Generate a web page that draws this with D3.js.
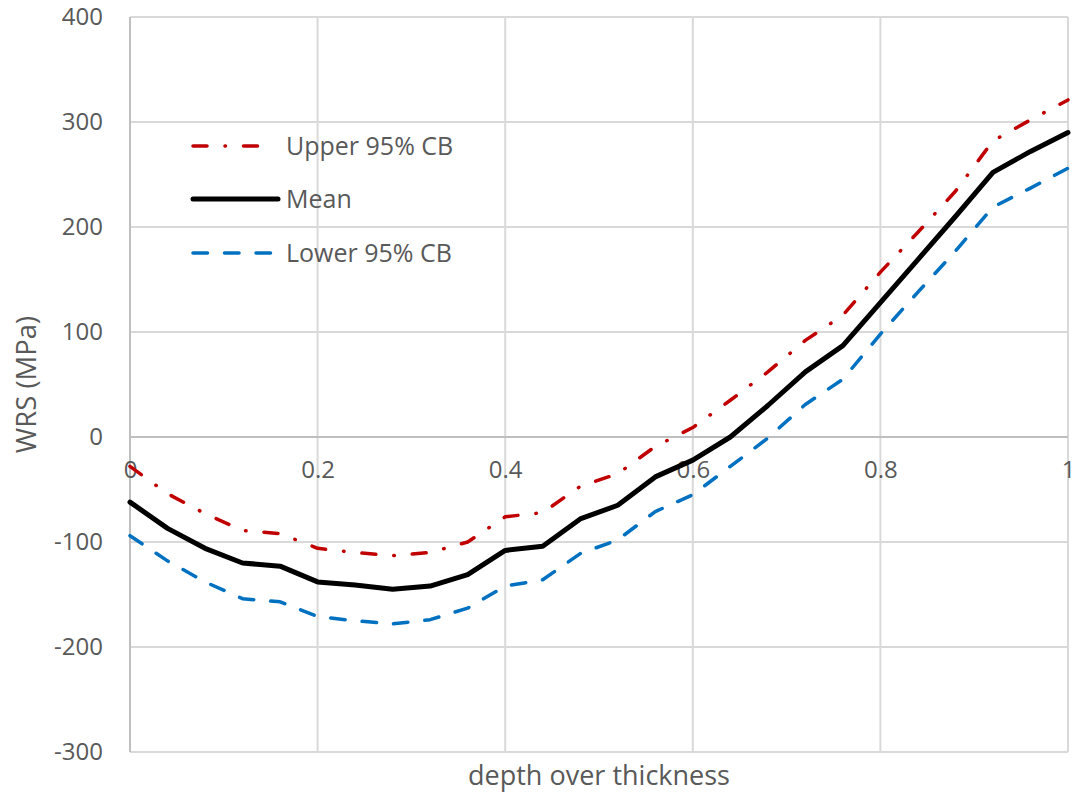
<!DOCTYPE html>
<html>
<head>
<meta charset="utf-8">
<script src="https://cdn.jsdelivr.net/npm/d3@7"></script>
<style>
  html, body { margin: 0; padding: 0; background: #fff; }
  svg { display: block; }
  text { font-family: "Open Sans", sans-serif; fill: #595959; }
</style>
</head>
<body>
<svg id="chart" width="1076" height="793"></svg>
<script>
// ---- data ----
const depth = [0, 0.04, 0.08, 0.12, 0.16, 0.2, 0.24, 0.28, 0.32, 0.36, 0.4, 0.44, 0.48, 0.52,
               0.56, 0.6, 0.64, 0.68, 0.72, 0.76, 0.8, 0.84, 0.88, 0.92, 0.96, 1];
const upper = [-28, -54, -73, -89, -92, -106, -110, -113, -110, -100, -76, -72, -47, -35,
               -9, 9, 35, 62, 92, 116, 157, 195, 234, 282, 302, 321];
const mean  = [-62, -87, -106, -120, -123, -138, -141, -145, -142, -131, -108, -104, -78, -65,
               -38, -22, 0, 30, 62, 87, 128, 169, 210, 252, 272, 290];
const lower = [-94, -118, -138, -154, -157, -171, -175, -178, -174, -163, -142, -136, -111, -98,
               -71, -55, -28, -1, 31, 55, 98, 138, 177, 219, 237, 256];
const xTicks = [0, 0.2, 0.4, 0.6, 0.8, 1];
const xTickLabels = ["0", "0.2", "0.4", "0.6", "0.8", "1"];
const yTicks = [-300, -200, -100, 0, 100, 200, 300, 400];
const seriesNames = ["Upper 95% CB", "Mean", "Lower 95% CB"];

// ---- layout ----
const svg = d3.select("#chart");
const L = 130, R = 1068, T = 17, B = 752;
const x = d3.scaleLinear().domain([0, 1]).range([L, R]);
const y = d3.scaleLinear().domain([-300, 400]).range([B, T]);
const grid = "#d9d9d9";

// horizontal gridlines
svg.append("g").selectAll("line").data(yTicks).join("line")
  .attr("x1", L).attr("x2", R)
  .attr("y1", d => y(d)).attr("y2", d => y(d))
  .attr("stroke", grid).attr("stroke-width", 2);
// vertical gridlines
svg.append("g").selectAll("line").data(xTicks).join("line")
  .attr("x1", d => x(d)).attr("x2", d => x(d))
  .attr("y1", T).attr("y2", B)
  .attr("stroke", grid).attr("stroke-width", 2);

// axis lines
svg.append("line").attr("x1", L).attr("x2", L).attr("y1", T).attr("y2", B)
  .attr("stroke", "#bfbfbf").attr("stroke-width", 2);
svg.append("line").attr("x1", L).attr("x2", R).attr("y1", y(0)).attr("y2", y(0))
  .attr("stroke", "#bfbfbf").attr("stroke-width", 2);

// y tick labels
const yAxis = d3.axisLeft(y).tickValues(yTicks).tickSize(0).tickPadding(0).tickFormat(d => String(d));
const gy = svg.append("g").attr("transform", `translate(${L - 27},0)`).call(yAxis);
gy.select(".domain").remove();
gy.selectAll("text").style("font-size", "24px").attr("fill", "#595959")
  .style("font-family", "'Open Sans', sans-serif");

// x tick labels (axis crosses at y=0)
const xAxis = d3.axisBottom(x).tickValues(xTicks).tickSize(0).tickPadding(0)
  .tickFormat((d, i) => xTickLabels[i]);
const gx = svg.append("g").attr("transform", `translate(0,${y(0) + 24})`).call(xAxis);
gx.select(".domain").remove();
gx.selectAll("text").style("font-size", "24px").attr("fill", "#595959")
  .style("font-family", "'Open Sans', sans-serif");

// lines
const mk = vals => d3.line().x((d, i) => x(depth[i])).y(d => y(d))(vals);
const styles = [
  { vals: upper, color: "#C00000", width: 3.5, dash: "14,18,0.5,18" },
  { vals: mean,  color: "#000000", width: 5, dash: null },
  { vals: lower, color: "#0070C0", width: 3.5, dash: "14.5,17" }
];
const plot = svg.append("g");
styles.forEach(s => {
  plot.append("path").attr("d", mk(s.vals))
    .attr("fill", "none").attr("stroke", s.color).attr("stroke-width", s.width)
    .attr("stroke-linecap", "round").attr("stroke-linejoin", "round")
    .attr("stroke-dasharray", s.dash);
});

// legend
const legY = [146, 199, 253];
const legX2 = [262, 278, 275];
const leg = svg.append("g");
styles.forEach((s, i) => {
  leg.append("line").attr("x1", 193).attr("x2", legX2[i])
    .attr("y1", legY[i]).attr("y2", legY[i])
    .attr("stroke", s.color).attr("stroke-width", s.width)
    .attr("stroke-linecap", "round").attr("stroke-dasharray", s.dash);
  leg.append("text").attr("x", 286).attr("y", legY[i]).attr("dy", "0.35em")
    .style("font-size", "25px").text(seriesNames[i]);
});

// axis titles
svg.append("text").attr("x", (L + R) / 2).attr("y", 785)
  .attr("text-anchor", "middle").style("font-size", "27px").text("depth over thickness");
svg.append("text").attr("transform", `translate(26,${(T + B) / 2}) rotate(-90)`)
  .attr("dy", "0.35em").attr("text-anchor", "middle").style("font-size", "27.5px").text("WRS (MPa)");
</script>
</body>
</html>
